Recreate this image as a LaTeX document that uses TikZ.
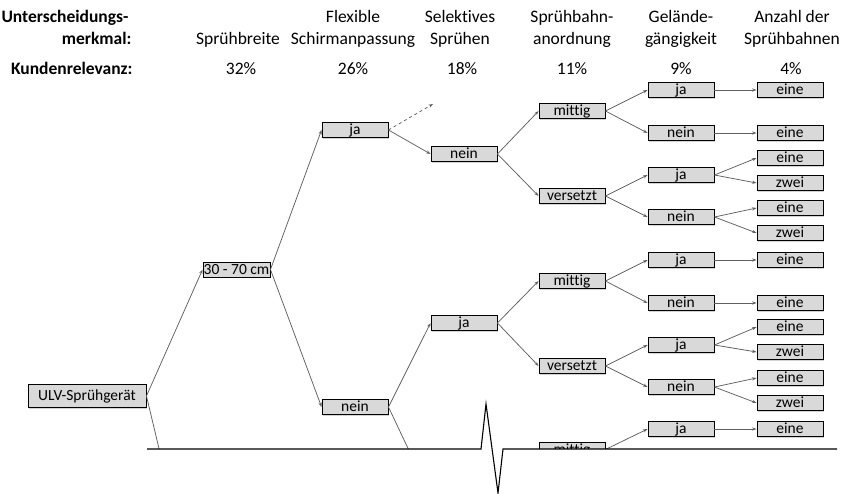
\documentclass[tikz,border=0pt]{standalone}
\usepackage{fontspec}
\setmainfont{Carlito}[Ligatures=NoCommon]
\usetikzlibrary{arrows.meta,shadows}

\definecolor{boxfill}{RGB}{217,217,217}
\definecolor{linkgray}{RGB}{95,95,95}

\tikzset{
  choice/.style={draw=black, line width=0.9pt, fill=boxfill,
    drop shadow={shadow xshift=1.3pt, shadow yshift=-1.3pt, opacity=0.35},
    inner sep=0pt, minimum width=66pt, minimum height=15pt,
    text height=9.5pt, text depth=0pt,
    font=\fontsize{15.5}{17}\selectfont},
  link/.style={draw=linkgray, line width=0.75pt,
    -{Stealth[length=4.5pt,width=3.2pt]}},
  plainlink/.style={draw=linkgray, line width=0.75pt},
  head/.style={anchor=base, font=\fontsize{17.5}{21}\selectfont},
  headbold/.style={anchor=base east, font=\fontsize{17.5}{21}\selectfont\bfseries},
}

\begin{document}
\begin{tikzpicture}[x=1pt,y=-1pt]
\useasboundingbox (0,0) rectangle (842,494);

% header rows
\node[headbold] (h1a) at (132,23) {Unterscheidungs-};
\node[headbold] (h1b) at (135,45) {merkmal:};
\node[headbold] (h2) at (136,75) {Kundenrelevanz:};

\node[head] (c1t) at (238,45) {Sprühbreite};
\node[head] (c2a) at (353,23) {Flexible};
\node[head] (c2t) at (353,45) {Schirmanpassung};
\node[head] (c3a) at (460,23) {Selektives};
\node[head] (c3t) at (460,45) {Sprühen};
\node[head] (c4a) at (572,23) {Sprühbahn-};
\node[head] (c4t) at (572,45) {anordnung};
\node[head] (c5a) at (681,23) {Gelände-};
\node[head] (c5t) at (681,45) {gängigkeit};
\node[head] (c6a) at (792,23) {Anzahl der};
\node[head] (c6t) at (792,45) {Sprühbahnen};

\node[head] (p1) at (241,75) {32\%};
\node[head] (p2) at (353,75) {26\%};
\node[head] (p3) at (462,75) {18\%};
\node[head] (p4) at (572,75) {11\%};
\node[head] (p5) at (681,75) {9\%};
\node[head] (p6) at (791,75) {4\%};

% decision tree, cut off at the axis line
\begin{scope}
\clip (0,0) rectangle (842,448.6);

\node[choice, minimum width=118pt, minimum height=23pt] (ulv) at (87,396) {ULV-Sprühgerät};
\node[choice, minimum width=67pt] (w) at (236.5,269.5) {30 - 70 cm};

\node[choice] (fja) at (355,130) {ja};
\node[choice] (fnein) at (355,407) {nein};

\node[choice] (sa) at (464,154) {nein};
\node[choice] (sb) at (464,323) {ja};

\node[choice] (aa) at (572,111) {mittig};
\node[choice] (ab) at (572,196) {versetzt};
\node[choice] (ba) at (572,281) {mittig};
\node[choice] (bb) at (572,366) {versetzt};
\node[choice] (ca) at (572,449.5) {mittig};

\node[choice] (aa1) at (681,90) {ja};
\node[choice] (aa2) at (681,133) {nein};
\node[choice] (ab1) at (681,175) {ja};
\node[choice] (ab2) at (681,217) {nein};
\node[choice] (ba1) at (681,260) {ja};
\node[choice] (ba2) at (681,303) {nein};
\node[choice] (bb1) at (681,345) {ja};
\node[choice] (bb2) at (681,387) {nein};
\node[choice] (ca1) at (681,429) {ja};

\node[choice] (aa1e) at (790,90) {eine};
\node[choice] (aa2e) at (790,133) {eine};
\node[choice] (ab1e) at (790,158) {eine};
\node[choice] (ab1z) at (790,183) {zwei};
\node[choice] (ab2e) at (790,208) {eine};
\node[choice] (ab2z) at (790,233) {zwei};
\node[choice] (ba1e) at (790,260) {eine};
\node[choice] (ba2e) at (790,303) {eine};
\node[choice] (bb1e) at (790,327) {eine};
\node[choice] (bb1z) at (790,352) {zwei};
\node[choice] (bb2e) at (790,378) {eine};
\node[choice] (bb2z) at (790,403) {zwei};
\node[choice] (ca1e) at (790,429) {eine};

% loose ends of branches that continue below the axis
\coordinate (ulvdown) at (162,461);
\coordinate (neindown) at (414,461);
\coordinate (more) at (433,104);

\draw[link] (ulv.east) -- (w.west);
\draw[plainlink] (ulv.east) -- (ulvdown);
\draw[link] (w.east) -- (fja.west);
\draw[link] (w.east) -- (fnein.west);
\draw[link] (fja.east) -- (sa.west);
\draw[link, dashed] (fja.east) -- (more);
\draw[link] (fnein.east) -- (sb.west);
\draw[plainlink] (fnein.east) -- (neindown);

\draw[link] (sa.east) -- (aa.west);
\draw[link] (sa.east) -- (ab.west);
\draw[link] (sb.east) -- (ba.west);
\draw[link] (sb.east) -- (bb.west);

\foreach \s/\t in {aa/aa1, aa/aa2, ab/ab1, ab/ab2, ba/ba1, ba/ba2, bb/bb1, bb/bb2, ca/ca1}
  \draw[link] (\s.east) -- (\t.west);

\foreach \s/\t in {aa1/aa1e, aa2/aa2e, ab1/ab1e, ab1/ab1z, ab2/ab2e, ab2/ab2z,
                   ba1/ba1e, ba2/ba2e, bb1/bb1e, bb1/bb1z, bb2/bb2e, bb2/bb2z, ca1/ca1e}
  \draw[link] (\s.east) -- (\t.west);
\end{scope}

% axis with break mark
\draw[line width=1.1pt, line join=miter] (147,449) -- (481,449) -- (486,404) -- (498,493) -- (503,449) -- (837,449);
\end{tikzpicture}
\end{document}
